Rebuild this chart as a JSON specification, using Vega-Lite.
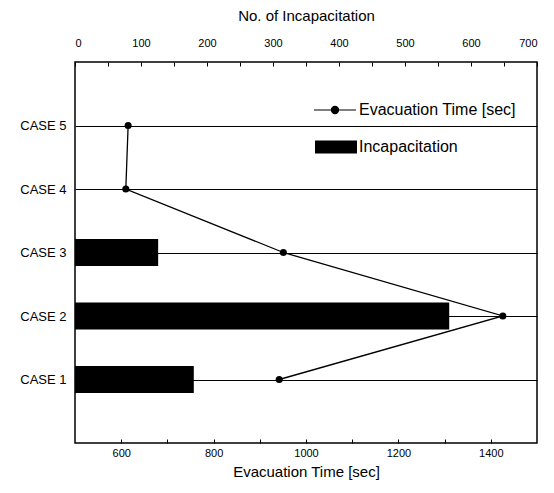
{
  "$schema": "https://vega.github.io/schema/vega-lite/v6.json",
  "width": 462,
  "height": 381,
  "autosize": {"type": "none"},
  "padding": {"left": 75, "top": 62, "right": 17, "bottom": 50},
  "background": "white",
  "config": {
    "font": "Liberation Sans",
    "view": {"stroke": "black", "strokeWidth": 1.5},
    "axis": {"domain": false, "labelColor": "black", "titleColor": "black", "tickColor": "black", "titleFontWeight": "normal"}
  },
  "data": {
    "values": [
      {"case": "CASE 1", "n": 1, "incap": 180, "evac": 942},
      {"case": "CASE 2", "n": 2, "incap": 567, "evac": 1426},
      {"case": "CASE 3", "n": 3, "incap": 126, "evac": 951},
      {"case": "CASE 4", "n": 4, "incap": 0, "evac": 610},
      {"case": "CASE 5", "n": 5, "incap": 0, "evac": 615}
    ]
  },
  "encoding": {
    "y": {
      "field": "case",
      "type": "ordinal",
      "sort": ["CASE 5", "CASE 4", "CASE 3", "CASE 2", "CASE 1"],
      "scale": {"type": "point", "padding": 1},
      "axis": {"title": null, "ticks": false, "labelFontSize": 13, "labelPadding": 9, "grid": true, "gridColor": "black", "gridOpacity": 1, "gridWidth": 1}
    }
  },
  "layer": [
    {
      "mark": {"type": "bar", "size": 27, "color": "black"},
      "encoding": {
        "x": {
          "field": "incap",
          "type": "quantitative",
          "scale": {"domain": [0, 700], "nice": false},
          "axis": {
            "orient": "top",
            "title": "No. of Incapacitation",
            "titleFontSize": 15,
            "titlePadding": 14,
            "labelFontSize": 11,
            "values": [0, 50, 100, 150, 200, 250, 300, 350, 400, 450, 500, 550, 600, 650, 700],
            "labelExpr": "datum.value % 100 == 0 ? datum.label : ''",
            "tickSize": -4,
            "labelPadding": 18,
            "grid": false
          }
        },
        "fill": {
          "datum": "Incapacitation",
          "scale": {"range": ["black"]},
          "legend": {
            "title": null,
            "orient": "none",
            "legendX": 240,
            "legendY": 64,
            "padding": 0,
            "symbolType": "M-1,-0.31H1V0.31H-1Z",
            "symbolSize": 1764,
            "symbolStrokeWidth": 0,
            "labelFontSize": 16,
            "labelColor": "black",
            "labelOffset": 2
          }
        }
      }
    },
    {
      "encoding": {
        "x": {
          "field": "evac",
          "type": "quantitative",
          "scale": {"domain": [500, 1500], "nice": false},
          "axis": {
            "orient": "bottom",
            "title": "Evacuation Time [sec]",
            "titleFontSize": 15,
            "titlePadding": 6,
            "labelFontSize": 11,
            "values": [600, 700, 800, 900, 1000, 1100, 1200, 1300, 1400],
            "labelExpr": "datum.value % 200 == 0 ? datum.label : ''",
            "format": "d",
            "tickSize": -4,
            "labelPadding": 8,
            "grid": false
          }
        }
      },
      "layer": [
        {
          "mark": {"type": "line", "color": "black", "strokeWidth": 1.3},
          "encoding": {
            "order": {"field": "n"},
            "stroke": {
              "datum": "Evacuation Time [sec]",
              "scale": {"range": ["black"]},
              "legend": {
                "title": null,
                "orient": "none",
                "legendX": 238,
                "legendY": 26,
                "padding": 0,
                "symbolType": "M-1,0H1M-0.17,0A0.17,0.17,0,1,0,0.17,0A0.17,0.17,0,1,0,-0.17,0Z",
                "symbolSize": 1764,
                "symbolFillColor": "black",
                "symbolStrokeColor": "black",
                "symbolStrokeWidth": 1.2,
                "labelFontSize": 16,
                "labelColor": "black",
                "labelOffset": 2
              }
            }
          }
        },
        {
          "mark": {"type": "point", "filled": true, "color": "black", "size": 50, "opacity": 1},
          "encoding": {}
        }
      ]
    }
  ],
  "resolve": {"scale": {"x": "independent", "stroke": "independent", "fill": "independent"}, "axis": {"x": "independent"}}
}
